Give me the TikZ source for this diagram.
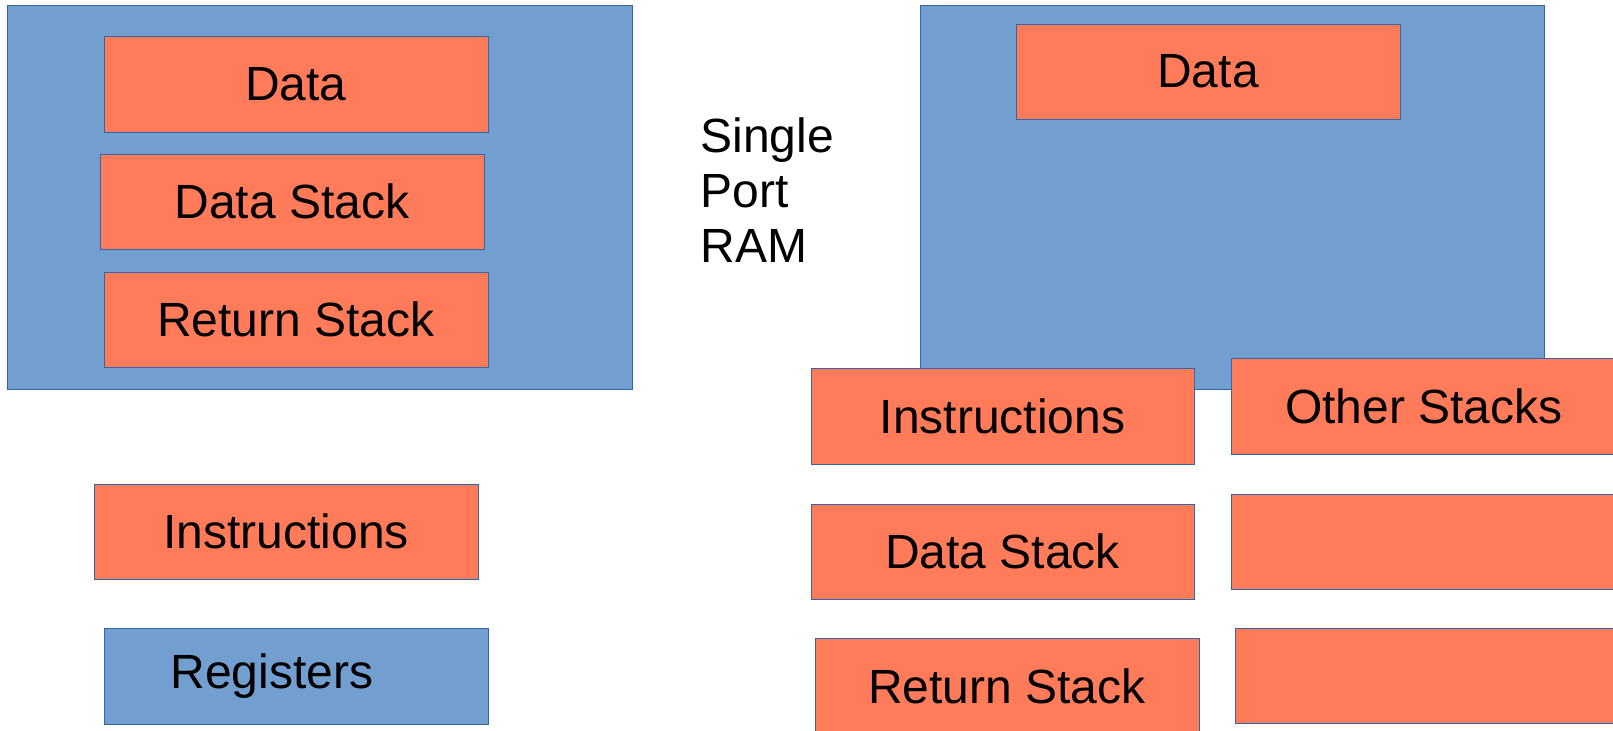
\documentclass[tikz,border=0pt]{standalone}
\usepackage{fontspec}
\setmainfont{Liberation Sans}
\definecolor{ramblue}{RGB}{114,159,207}
\definecolor{edgeblue}{RGB}{52,101,164}
\definecolor{coral}{RGB}{255,123,89}
\tikzset{
  region/.style={draw=edgeblue, fill=ramblue, line width=0.5pt, inner sep=0pt, outer sep=0pt},
  part/.style={draw=edgeblue, fill=coral, line width=0.5pt, inner sep=0pt, outer sep=0pt,
    minimum width=192pt, minimum height=47.5pt, font=\fontsize{24}{27.5}\selectfont},
}
\begin{document}
\begin{tikzpicture}[x=0.5pt, y=-0.5pt]
  \useasboundingbox (0,0) rectangle (1613,730);
  \clip (0,0) rectangle (1613,730);

  % memory with separate regions
  \node[region, minimum width=312.5pt, minimum height=192pt] (ramL) at (319.5,197) {};
  \node[part, minimum height=48pt] (dataL) at (296,84) {Data};
  \node[part] (dstackL) at (292,201.5) {Data Stack};
  \node[part] (rstackL) at (296,319.5) {Return Stack};
  \node[part] (instrL) at (286,531.5) {Instructions};
  \node[part, draw=edgeblue, fill=ramblue, minimum height=48pt] (regs) at (296,676) {Registers\hspace*{24pt}};

  % label between the two layouts
  \node[anchor=base west, align=left, inner sep=0pt, font=\fontsize{24}{27.5}\selectfont] (ramlabel) at (700,262) {Single\\Port\\RAM};

  % single port RAM with stacks outside
  \node[region, minimum width=312pt, minimum height=192pt] (ramR) at (1232,197) {};
  \node[part] (dataR) at (1208,71.5) {Data};
  \node[part, minimum width=191.5pt, minimum height=48pt] (instrR) at (1002.5,416) {Instructions};
  \node[part, minimum width=191.5pt] (dstackR) at (1002.5,551.5) {Data Stack};
  \node[part, minimum height=48pt] (rstackR) at (1007,686) {Return Stack};
  \node[part, minimum width=193pt, minimum height=48pt] (other) at (1424,406) {Other Stacks};
  \node[part, minimum width=193pt] (stackB) at (1424,541.5) {};
  \node[part, minimum width=191pt] (stackC) at (1426,675.5) {};
\end{tikzpicture}
\end{document}
